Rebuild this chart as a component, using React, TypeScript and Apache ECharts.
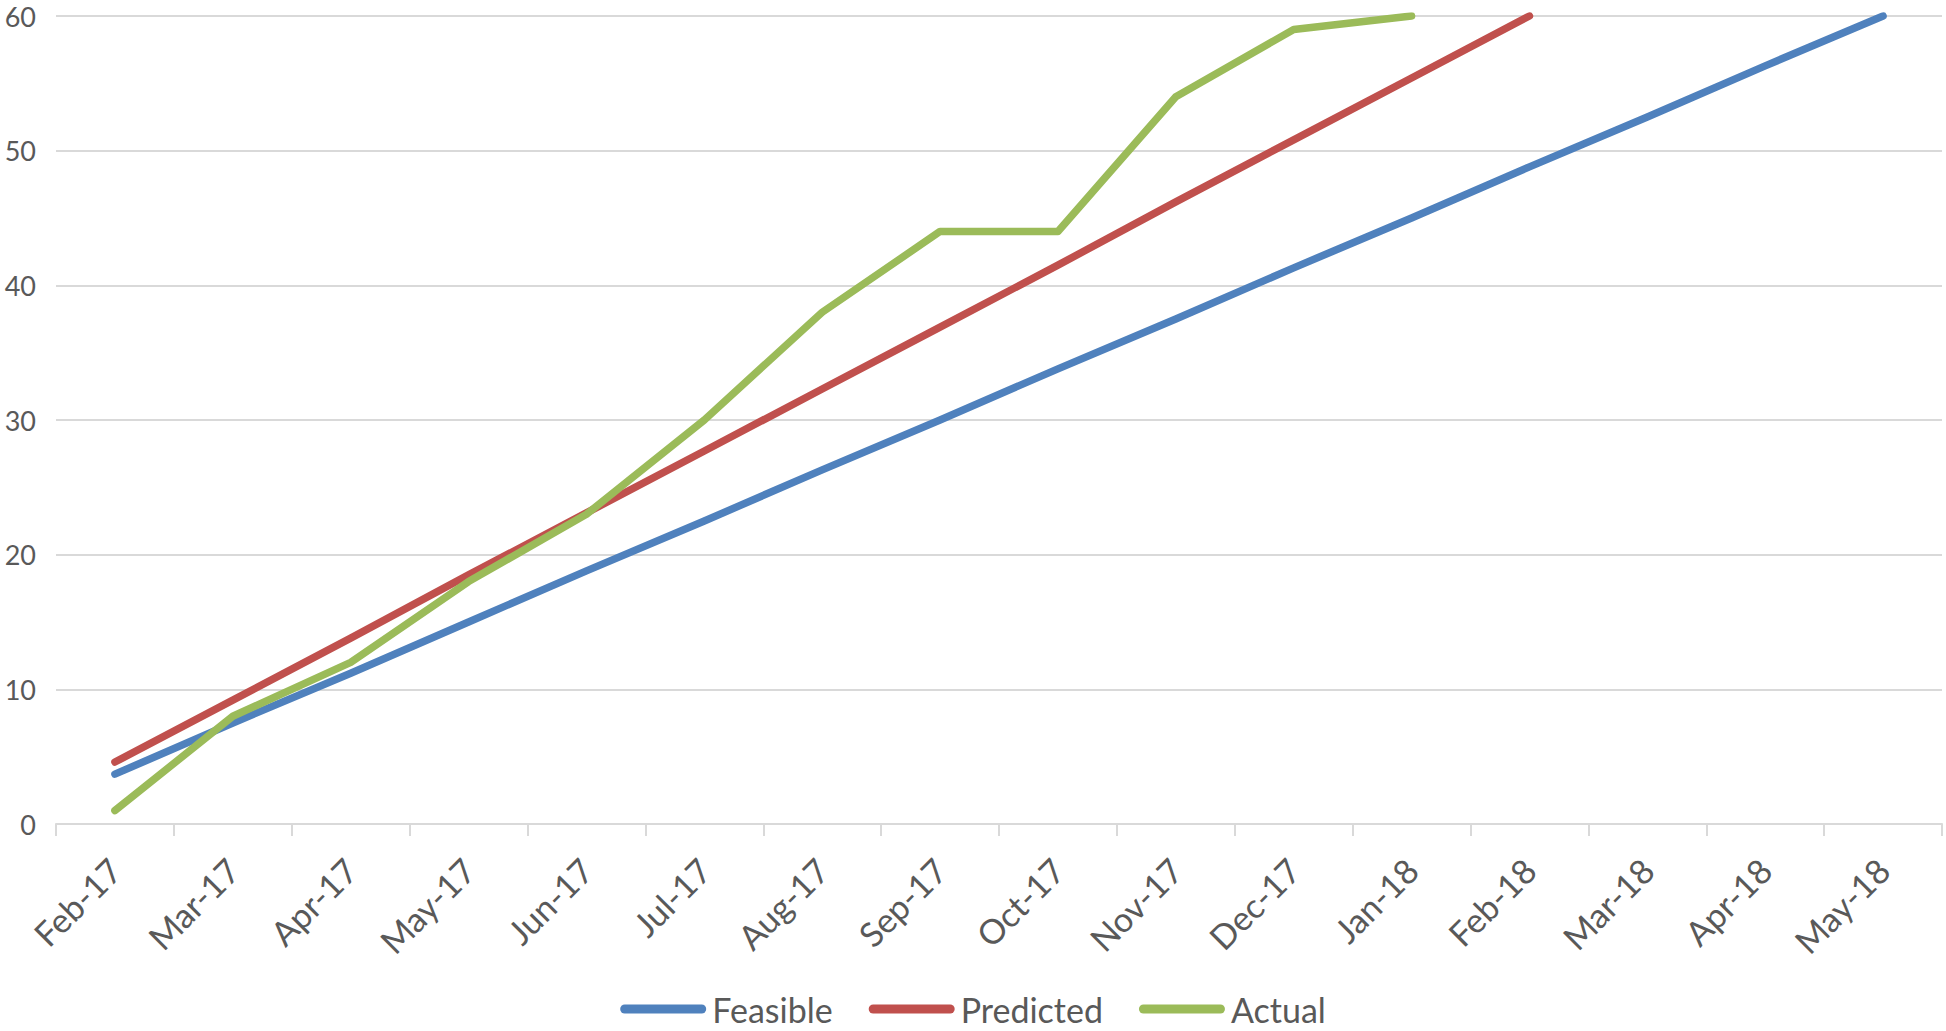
import React, { useEffect, useRef } from "react";
import * as echarts from "echarts";

const categories = [
  "Feb-17", "Mar-17", "Apr-17", "May-17", "Jun-17", "Jul-17", "Aug-17", "Sep-17",
  "Oct-17", "Nov-17", "Dec-17", "Jan-18", "Feb-18", "Mar-18", "Apr-18", "May-18",
];
const feasible = [3.7, 7.5, 11.2, 15, 18.8, 22.5, 26.3, 30, 33.8, 37.5, 41.3, 45, 48.8, 52.5, 56.3, 60];
const predicted = [4.6, 9.2, 13.8, 18.5, 23.1, 27.7, 32.3, 36.9, 41.5, 46.2, 50.8, 55.4, 60];
const actual = [1, 8, 12, 18, 23, 30, 38, 44, 44, 54, 59, 60];
const seriesNames = ["Feasible", "Predicted", "Actual"];
const colors = ["#4F81BD", "#C0504D", "#9BBB59"];

const FONT = "Lato";

export default function App() {
  const ref = useRef<HTMLDivElement>(null);
  useEffect(() => {
    document.body.style.margin = "0";
    const chart = echarts.init(ref.current!, undefined, { renderer: "svg" });
    const datasets = [feasible, predicted, actual];
    chart.setOption({
      animation: false,
      backgroundColor: "#ffffff",
      grid: { left: 56, right: 4, top: 16, bottom: 207, containLabel: false },
      legend: {
        bottom: 0,
        left: "center",
        itemGap: 36,
        itemWidth: 86,
        itemHeight: 9,
        icon: "path://M4.5,0 L81.5,0 A4.5,4.5 0 0 1 81.5,9 L4.5,9 A4.5,4.5 0 0 1 4.5,0 Z",
        textStyle: { fontFamily: FONT, fontSize: 34, color: "#595959", padding: [0, 0, 0, 1] },
        data: seriesNames,
      },
      xAxis: {
        type: "category",
        data: categories,
        boundaryGap: true,
        axisLine: { show: true, lineStyle: { color: "#d9d9d9", width: 2 } },
        axisTick: { show: true, length: 12, lineStyle: { color: "#d9d9d9", width: 2 } },
        axisLabel: {
          rotate: 45,
          margin: 40,
          interval: 0,
          fontFamily: FONT,
          fontSize: 34,
          color: "#595959",
        },
        splitLine: { show: false },
      },
      yAxis: {
        type: "value",
        min: 0,
        max: 60,
        interval: 10,
        axisLine: { show: false },
        axisTick: { show: false },
        axisLabel: { margin: 20, fontFamily: FONT, fontSize: 27, color: "#595959" },
        splitLine: { show: true, lineStyle: { color: "#d9d9d9", width: 2 } },
      },
      series: seriesNames.map((name, i) => ({
        name,
        type: "line",
        data: datasets[i],
        showSymbol: false,
        symbol: "none",
        color: colors[i],
        lineStyle: { color: colors[i], width: 7.5, cap: "round", join: "round" },
        z: 2 + i,
      })),
    });
    return () => chart.dispose();
  }, []);
  return <div ref={ref} style={{ width: 1946, height: 1031 }} />;
}
